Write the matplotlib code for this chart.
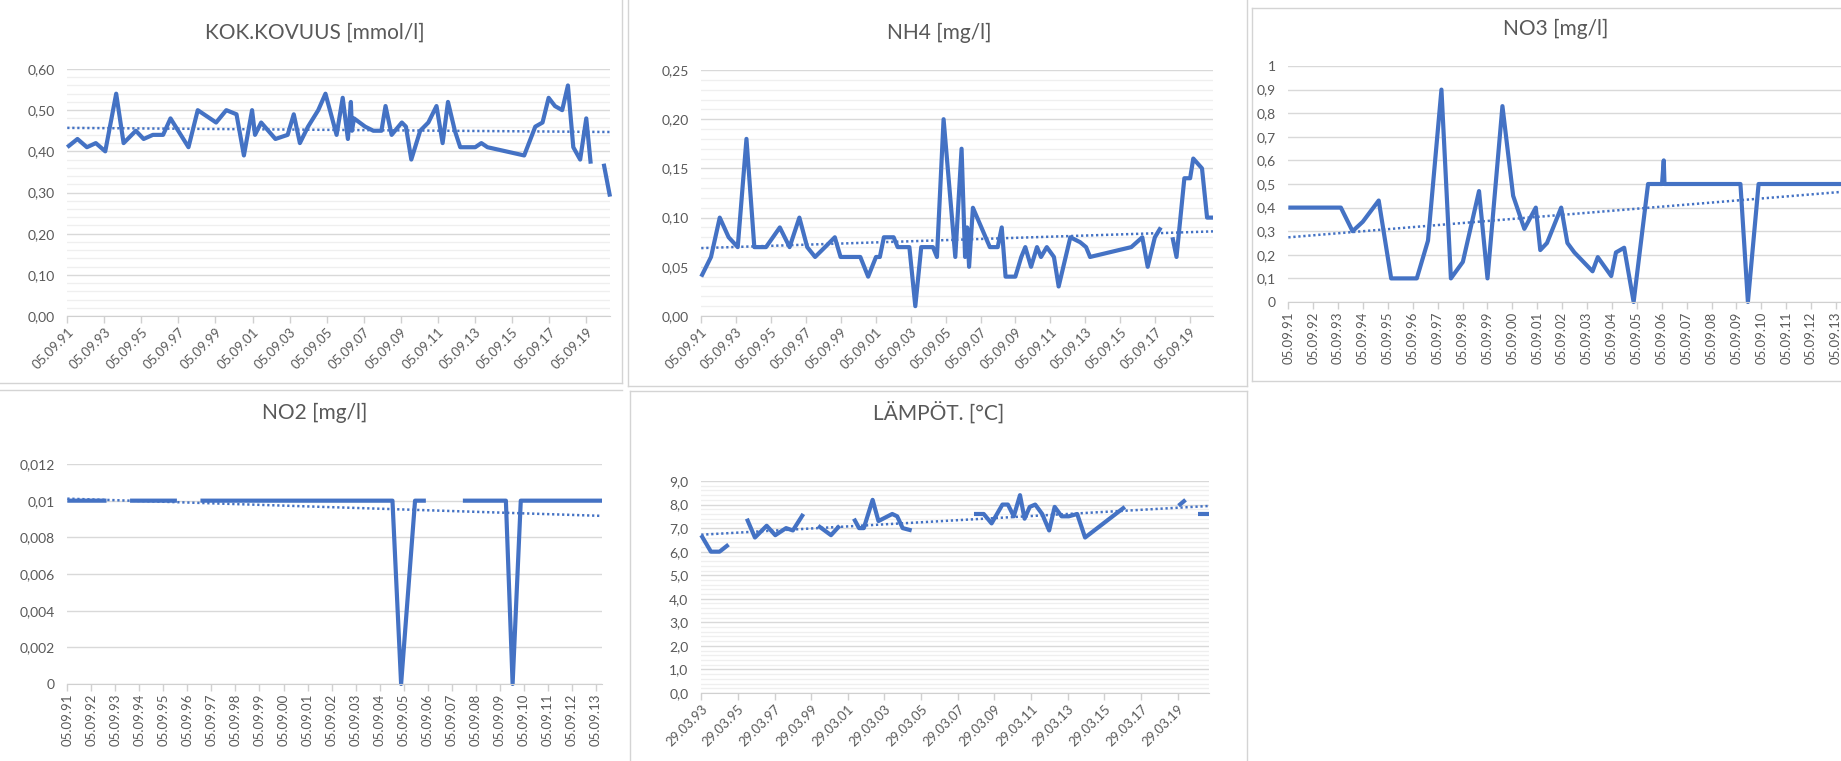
import numpy as np
import matplotlib
matplotlib.use("Agg")
import matplotlib.pyplot as plt
from matplotlib.lines import Line2D
from matplotlib.ticker import MultipleLocator

# ------------------------------------------------------------------
# data (x = decimal year, nan = gap)
# ------------------------------------------------------------------
nan = np.nan

kok_x = [1991.68, 1992.23, 1992.74, 1993.22, 1993.73, 1994.32, 1994.72, 1995.38, 1995.80, 1996.30,
         1996.85, 1997.25, 1998.22, 1998.72, 1999.71, 2000.26, 2000.81, 2001.21, 2001.65, 2001.81,
         2002.14, 2002.91, 2003.57, 2003.90, 2004.23, 2004.67, 2005.22, 2005.61, 2006.21, 2006.54,
         2006.82, 2006.98, 2007.04, 2007.15, 2007.75, 2008.19, 2008.63, 2008.85, 2009.18, 2009.73,
         2009.95, 2010.24, 2010.72, 2011.16, 2011.60, 2011.93, 2012.22, 2012.59, 2012.88, 2013.36,
         2013.69, 2014.02, 2014.35, 2016.33, 2016.93, 2017.32, 2017.65, 2017.99, 2018.38, 2018.69,
         2018.98, 2019.35, 2019.68, 2019.92, 2020.30, 2020.62, 2020.96]
kok_y = [0.41, 0.43, 0.41, 0.42, 0.40, 0.54, 0.42, 0.45, 0.43, 0.44,
         0.44, 0.48, 0.41, 0.50, 0.47, 0.50, 0.49, 0.39, 0.50, 0.44,
         0.47, 0.43, 0.44, 0.49, 0.42, 0.46, 0.50, 0.54, 0.44, 0.53,
         0.43, 0.52, 0.45, 0.48, 0.46, 0.45, 0.45, 0.51, 0.44, 0.47,
         0.46, 0.38, 0.45, 0.47, 0.51, 0.42, 0.52, 0.45, 0.41, 0.41,
         0.41, 0.42, 0.41, 0.39, 0.46, 0.47, 0.53, 0.51, 0.50, 0.56,
         0.41, 0.38, 0.48, 0.37, nan, 0.37, 0.29]
kok_trend = [0.457, 0.447]
kok_xlabels = ["05.09.91", "05.09.93", "05.09.95", "05.09.97", "05.09.99", "05.09.01", "05.09.03",
               "05.09.05", "05.09.07", "05.09.09", "05.09.11", "05.09.13", "05.09.15", "05.09.17",
               "05.09.19"]
kok_ylabels = ["0,00", "0,10", "0,20", "0,30", "0,40", "0,50", "0,60"]

nh4_x = [1991.68, 1992.24, 1992.74, 1993.25, 1993.77, 1994.27, 1994.72, 1995.39, 1996.18, 1996.74,
         1997.30, 1997.75, 1998.20, 1998.77, 1999.33, 1999.66, 2000.79, 2001.24, 2001.69, 2001.91,
         2002.14, 2002.70, 2002.93, 2003.60, 2003.94, 2004.28, 2004.95, 2005.18, 2005.56, 2006.23,
         2006.59, 2006.79, 2006.91, 2007.02, 2007.24, 2008.21, 2008.66, 2008.89, 2009.11, 2009.67,
         2010.01, 2010.24, 2010.57, 2010.91, 2011.14, 2011.47, 2011.88, 2012.15, 2012.82, 2013.38,
         2013.72, 2013.95, 2016.31, 2016.94, 2017.25, 2017.66, 2018.00, 2018.33, 2018.67, 2018.90,
         2019.35, 2019.68, 2019.86, 2020.36, 2020.65, 2020.99]
nh4_y = [0.04, 0.06, 0.10, 0.08, 0.07, 0.18, 0.07, 0.07, 0.09, 0.07,
         0.10, 0.07, 0.06, 0.07, 0.08, 0.06, 0.06, 0.04, 0.06, 0.06,
         0.08, 0.08, 0.07, 0.07, 0.01, 0.07, 0.07, 0.06, 0.20, 0.06,
         0.17, 0.06, 0.09, 0.05, 0.11, 0.07, 0.07, 0.09, 0.04, 0.04,
         0.06, 0.07, 0.05, 0.07, 0.06, 0.07, 0.06, 0.03, 0.08, 0.075,
         0.07, 0.06, 0.07, 0.08, 0.05, 0.08, 0.09, nan, 0.08, 0.06,
         0.14, 0.14, 0.16, 0.15, 0.10, 0.10]
nh4_trend = [0.069, 0.086]
nh4_xlabels = kok_xlabels
nh4_ylabels = ["0,00", "0,05", "0,10", "0,15", "0,20", "0,25"]

no3_x = [1991.68, 1992.40, 1993.10, 1993.79, 1994.26, 1994.67, 1995.31, 1995.81, 1996.30, 1996.84,
         1997.29, 1997.83, 1998.21, 1998.69, 1999.34, 1999.68, 2000.28, 2000.71, 2001.16, 2001.62,
         2001.80, 2002.07, 2002.64, 2002.89, 2003.17, 2003.90, 2004.11, 2004.65, 2004.84, 2005.17,
         2005.55, 2006.13, 2006.69, 2006.76, 2006.79, 2007.40, 2008.00, 2008.60, 2009.20, 2009.84,
         2010.14, 2010.57, 2011.20, 2011.90, 2012.60, 2013.30, 2014.00, 2015.00, 2016.00, 2017.00,
         2018.00, 2019.00, 2020.00, 2020.99]
no3_y = [0.40, 0.40, 0.40, 0.40, 0.30, 0.34, 0.43, 0.10, 0.10, 0.10,
         0.26, 0.90, 0.10, 0.17, 0.47, 0.10, 0.83, 0.45, 0.31, 0.40,
         0.22, 0.25, 0.40, 0.25, 0.21, 0.13, 0.19, 0.11, 0.21, 0.23,
         0.00, 0.50, 0.50, 0.60, 0.50, 0.50, 0.50, 0.50, 0.50, 0.50,
         0.00, 0.50, 0.50, 0.50, 0.50, 0.50, 0.50, 0.50, 0.50, 0.50,
         0.50, 0.50, 0.50, 0.50]
no3_trend = [0.274, 0.528]
no3_xlabels = ["05.09.%02d" % (y % 100) for y in range(1991, 2021)]
no3_ylabels = ["0", "0,1", "0,2", "0,3", "0,4", "0,5", "0,6", "0,7", "0,8", "0,9", "1"]

no2_x = [1991.68, 1992.30, 1992.90, 1993.31, 1993.80, 1994.29, 1994.90, 1995.60, 1996.24, 1996.70,
         1997.22, 1998.00, 1999.00, 2000.00, 2001.00, 2002.00, 2003.00, 2004.00, 2005.21, 2005.57,
         2006.15, 2006.60, 2007.40, 2008.14, 2009.00, 2009.93, 2010.21, 2010.55, 2011.50, 2012.50,
         2013.93]
no2_y = [0.01, 0.01, 0.01, 0.01, nan, 0.01, 0.01, 0.01, 0.01, nan,
         0.01, 0.01, 0.01, 0.01, 0.01, 0.01, 0.01, 0.01, 0.01, 0.0,
         0.01, 0.01, nan, 0.01, 0.01, 0.01, 0.0, 0.01, 0.01, 0.01,
         0.01]
no2_trend = [0.01011, 0.00917]
no2_xlabels = ["05.09.%02d" % (y % 100) for y in range(1991, 2014)]
no2_ylabels = ["0", "0,002", "0,004", "0,006", "0,008", "0,01", "0,012"]

temp_x = [1993.24, 1993.77, 1994.24, 1994.73, 1995.20, 1995.73, 1996.17, 1996.81, 1997.28, 1997.87,
          1998.24, 1998.81, 1999.20, 1999.62, 2000.32, 2000.79, 2001.20, 2001.57, 2001.85, 2002.11,
          2002.59, 2002.91, 2003.66, 2003.93, 2004.23, 2004.72, 2006.50, 2008.12, 2008.65, 2009.08,
          2009.67, 2009.97, 2010.29, 2010.63, 2010.88, 2011.16, 2011.46, 2011.84, 2012.22, 2012.52,
          2012.90, 2013.29, 2013.75, 2014.18, 2016.35, 2017.80, 2019.28, 2019.66, 2020.00, 2020.34,
          2020.94]
temp_y = [6.7, 6.0, 6.0, 6.3, nan, 7.4, 6.6, 7.1, 6.7, 7.0,
          6.9, 7.6, nan, 7.1, 6.7, 7.1, nan, 7.4, 7.0, 7.0,
          8.2, 7.3, 7.6, 7.5, 7.0, 6.9, nan, 7.6, 7.6, 7.2,
          8.0, 8.0, 7.5, 8.4, 7.4, 7.9, 8.0, 7.6, 6.9, 7.9,
          7.5, 7.5, 7.6, 6.6, 7.9, nan, 7.95, 8.2, nan, 7.6,
          7.6]
temp_trend = [6.72, 7.94]
temp_xlabels = ["29.03.%02d" % (y % 100) for y in range(1993, 2021, 2)]
temp_ylabels = ["0,0", "1,0", "2,0", "3,0", "4,0", "5,0", "6,0", "7,0", "8,0", "9,0"]

# ------------------------------------------------------------------
# helpers
# ------------------------------------------------------------------
W, H = 1841, 761
BLUE = "#4472C4"
TXT = "#595959"
plt.rcParams["font.family"] = ["Lato", "DejaVu Sans"]


def to_year(label):
    d, m, y = (int(p) for p in label.split("."))
    y += 1900 if y > 50 else 2000
    doy = (np.datetime64(f"{y}-{m:02d}-{d:02d}") - np.datetime64(f"{y}-01-01")).astype(int)
    return y + doy / 365.25


def frame(x0, y0, x1, y1):
    fig.add_artist(Line2D([x0 / W, x1 / W], [1 - y0 / H, 1 - y1 / H],
                          color="#d4d4d4", lw=1.0))


def panel(box, title, title_xy, x, y, trend, xlabels, ylabels, minor, rot):
    l, t, r, b = box
    ax = fig.add_axes([l / W, 1 - b / H, (r - l) / W, (b - t) / H])
    yt = [float(s.replace(",", ".")) for s in ylabels]
    ax.set_ylim(min(yt), max(yt))
    ax.set_yticks(yt, ylabels)
    if minor:
        ax.yaxis.set_minor_locator(MultipleLocator(minor))
    ax.grid(axis="y", which="major", color="#d9d9d9", lw=1.0)
    ax.grid(axis="y", which="minor", color="#efefef", lw=0.9)
    ax.set_axisbelow(True)

    xt = [to_year(s) for s in xlabels]
    ax.set_xticks(xt, xlabels)
    ax.set_xlim(min(x[0], xt[0]) - 0.01, x[-1])

    for s in ["top", "right", "left"]:
        ax.spines[s].set_visible(False)
    ax.spines["bottom"].set_color("#d0d0d0")
    ax.tick_params(axis="y", which="both", length=0, pad=9, labelsize=10, labelcolor=TXT)
    ax.tick_params(axis="x", length=5, color="#d0d0d0", width=1, pad=2,
                   labelsize=9.5, labelcolor=TXT)
    for lab in ax.get_xticklabels():
        lab.set_rotation(rot)
        if rot == 45:
            lab.set_ha("right")
            lab.set_va("top")
            lab.set_rotation_mode("anchor")

    ax.plot(x, y, color=BLUE, lw=3.0, solid_joinstyle="round", solid_capstyle="butt",
            clip_on=False)
    ax.plot([x[0], x[-1]], trend, color=BLUE, lw=1.8, ls=(0, (0.9, 1.1)))

    fig.text(title_xy[0] / W, 1 - title_xy[1] / H, title, ha="center", va="center",
             fontsize=15, color=TXT)
    return ax


# ------------------------------------------------------------------
# figure
# ------------------------------------------------------------------
fig = plt.figure(figsize=(W / 100, H / 100), dpi=100)
fig.patch.set_facecolor("white")

panel((67, 69, 610, 316), "KOK.KOVUUS [mmol/l]", (315, 33),
      kok_x, kok_y, kok_trend, kok_xlabels, kok_ylabels, 0.02, 45)
panel((701, 70, 1213, 316), "NH4 [mg/l]", (939, 33),
      nh4_x, nh4_y, nh4_trend, nh4_xlabels, nh4_ylabels, 0.01, 45)
panel((1288, 66, 2018, 302), "NO3 [mg/l]", (1556, 29),
      no3_x, no3_y, no3_trend, no3_xlabels, no3_ylabels, None, 90)
panel((67, 464, 602, 684), "NO2 [mg/l]", (315, 413),
      no2_x, no2_y, no2_trend, no2_xlabels, no2_ylabels, None, 90)
panel((701, 481, 1209, 693), "LÄMPÖT. [°C]", (939, 413),
      temp_x, temp_y, temp_trend, temp_xlabels, temp_ylabels, 0.2, 45)

# chart object borders of the spreadsheet
frame(622, 0, 622, 383)
frame(0, 383, 622, 383)
frame(0, 390, 622, 390)
frame(628, 0, 628, 386)
frame(1247, 0, 1247, 386)
frame(628, 386, 1247, 386)
frame(1252, 8, 1252, 381)
frame(1252, 8, 1841, 8)
frame(1252, 381, 1841, 381)
frame(630, 391, 1247, 391)
frame(630, 391, 630, 761)
frame(1247, 391, 1247, 761)

fig.savefig("out.png", dpi=100, facecolor="white")
